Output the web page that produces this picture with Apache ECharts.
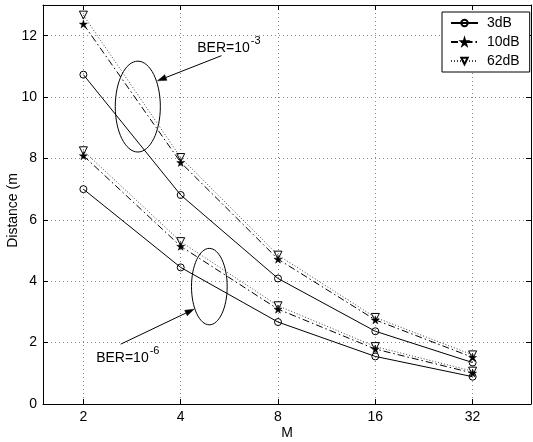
<!DOCTYPE html>
<html>
<head>
<meta charset="utf-8">
<script src="https://cdn.jsdelivr.net/npm/echarts@6/dist/echarts.min.js"></script>
<style>
html,body{margin:0;padding:0;background:#fff;}
#c{width:533px;height:442px;}
</style>
</head>
<body>
<div id="c"></div>
<script>
// ---- data ----
const M = [2, 4, 8, 16, 32];
const ber3_3dB  = [10.73, 6.81, 4.09, 2.37, 1.35];
const ber3_10dB = [12.38, 7.87, 4.72, 2.74, 1.52];
const ber3_62dB = [12.67, 8.03, 4.85, 2.82, 1.60];
const ber6_3dB  = [7.00, 4.45, 2.67, 1.55, 0.89];
const ber6_10dB = [8.09, 5.14, 3.09, 1.79, 1.01];
const ber6_62dB = [8.25, 5.29, 3.20, 1.87, 1.07];
const seriesNames = ['3dB', '10dB', '62dB'];
const yTicks = [0, 2, 4, 6, 8, 10, 12];

const FONT = '"Liberation Sans", Arial, sans-serif';
const STAR = 'path://M50,0 L61,35 L98,35 L68,57 L79,91 L50,70 L21,91 L32,57 L2,35 L39,35 Z';

function pairs(ys) { return M.map((m, i) => [m, ys[i]]); }

const styles = {
  '3dB':  { line: { color: '#000', width: 1, type: 'solid' }, symbol: 'circle', size: 7, rotate: 0,
            item: { color: 'rgba(255,255,255,0)', borderColor: '#000', borderWidth: 1 } },
  '10dB': { line: { color: '#000', width: 1, type: [7, 3, 1.5, 3] }, symbol: STAR, size: 8, rotate: 0,
            item: { color: '#000', borderColor: '#000', borderWidth: 0.5 } },
  '62dB': { line: { color: '#444', width: 1, type: [1, 2] }, symbol: 'triangle', size: 8, rotate: 180,
            item: { color: 'rgba(255,255,255,0)', borderColor: '#000', borderWidth: 1 } }
};

function mk(name, ys) {
  const s = styles[name];
  return {
    name: name, type: 'line', data: pairs(ys),
    symbol: s.symbol, symbolSize: s.size, symbolRotate: s.rotate, showAllSymbol: true,
    lineStyle: s.line, itemStyle: s.item, emphasis: { disabled: true }, animation: false,
    z: 3
  };
}

const chart = echarts.init(document.getElementById('c'), null, { renderer: 'canvas' });

const gridLine = { show: true, lineStyle: { color: '#888', type: [1, 3], width: 1 } };
const axisLine = { show: true, onZero: false, lineStyle: { color: '#000', width: 1 } };
const tick = { show: true, inside: true, length: 5, lineStyle: { color: '#000' } };

chart.setOption({
  animation: false,
  backgroundColor: '#fff',
  textStyle: { fontFamily: FONT },
  grid: { left: 43, right: 2, top: 5, bottom: 38, containLabel: false, outerBoundsMode: 'none' },
  legend: {
    data: seriesNames, orient: 'vertical', left: 442, top: 12,
    backgroundColor: '#fff', borderColor: '#000', borderWidth: 1,
    padding: [4, 10, 4, 8], itemWidth: 27, itemHeight: 8, itemGap: 5,
    textStyle: { fontSize: 14, color: '#000', fontFamily: FONT, padding: [0, 0, 0, 4] },
    selectedMode: false
  },
  xAxis: [{
    type: 'log', logBase: 2, min: 1.5, max: 48.5,
    name: 'M', nameLocation: 'middle', nameGap: 22, nameMoveOverlap: false,
    nameTextStyle: { fontSize: 14, color: '#000', fontFamily: FONT },
    axisLine: axisLine, axisTick: tick, splitLine: gridLine, minorTick: { show: false },
    axisLabel: { fontSize: 14, color: '#000', margin: 6, showMinLabel: false, showMaxLabel: false,
                 formatter: v => String(Math.round(v)) }
  }, {
    type: 'log', logBase: 2, min: 1.5, max: 48.5, position: 'top',
    axisLine: axisLine, axisTick: tick, splitLine: { show: false }, axisLabel: { show: false }
  }],
  yAxis: [{
    type: 'value', min: 0, max: 13, interval: 2,
    name: 'Distance (m', nameLocation: 'middle', nameGap: 23, nameMoveOverlap: false,
    nameTextStyle: { fontSize: 14, color: '#000', fontFamily: FONT, padding: [0, 12, 0, 0] },
    axisLine: axisLine, axisTick: tick, splitLine: gridLine,
    axisLabel: { fontSize: 14, color: '#000', margin: 6, showMaxLabel: false,
                 formatter: v => (yTicks.indexOf(v) >= 0 ? String(v) : '') }
  }, {
    type: 'value', min: 0, max: 13, interval: 2, position: 'right',
    axisLine: axisLine, axisTick: tick, splitLine: { show: false }, axisLabel: { show: false }
  }],
  series: [
    mk('3dB', ber3_3dB), mk('10dB', ber3_10dB), mk('62dB', ber3_62dB),
    mk('3dB', ber6_3dB), mk('10dB', ber6_10dB), mk('62dB', ber6_62dB)
  ]
});

// ---- annotations (anchored in data coordinates) ----
const ellipses = [
  { x: [2.51, 3.46], y: [8.21, 11.17] },
  { x: [4.32, 5.57], y: [2.58, 5.07] }
];
const arrows = [
  { from: [5.35, 11.35], to: [3.39, 10.53] },
  { from: [2.61, 1.95], to: [4.40, 3.09] }
];
const labels = [
  { at: [4.5, 11.6], main: 'BER=10', sup: '-3' },
  { at: [2.19, 1.5], main: 'BER=10', sup: '-6' }
];

function px(p) { return chart.convertToPixel({ gridIndex: 0 }, p); }
const ctx = document.createElement('canvas').getContext('2d');
ctx.font = '14px ' + FONT;

const g = [];
ellipses.forEach(e => {
  const a = px([e.x[0], e.y[0]]), b = px([e.x[1], e.y[1]]);
  g.push({ type: 'ellipse', silent: true, z: 10,
    shape: { cx: (a[0] + b[0]) / 2, cy: (a[1] + b[1]) / 2, rx: Math.abs(b[0] - a[0]) / 2, ry: Math.abs(b[1] - a[1]) / 2 },
    style: { fill: 'none', stroke: '#000', lineWidth: 1 } });
});
arrows.forEach(ar => {
  const f = px(ar.from), t = px(ar.to);
  const dx = t[0] - f[0], dy = t[1] - f[1], L = Math.hypot(dx, dy);
  const ux = dx / L, uy = dy / L, hl = 9, hw = 3;
  const bx = t[0] - ux * hl, by = t[1] - uy * hl;
  g.push({ type: 'line', silent: true, z: 10, shape: { x1: f[0], y1: f[1], x2: bx, y2: by },
    style: { stroke: '#000', lineWidth: 1 } });
  g.push({ type: 'polygon', silent: true, z: 10,
    shape: { points: [[t[0], t[1]], [bx - uy * hw, by + ux * hw], [bx + uy * hw, by - ux * hw]] },
    style: { fill: '#000', stroke: '#000', lineWidth: 0.5 } });
});
labels.forEach(l => {
  const p = px(l.at);
  const w = ctx.measureText(l.main).width;
  g.push({ type: 'text', silent: true, z: 10, x: p[0], y: p[1],
    style: { text: l.main, fontSize: 14, fontFamily: FONT, fill: '#000', align: 'left', verticalAlign: 'middle' } });
  g.push({ type: 'text', silent: true, z: 10, x: p[0] + w + 1, y: p[1] - 7,
    style: { text: l.sup, fontSize: 11, fontFamily: FONT, fill: '#000', align: 'left', verticalAlign: 'middle' } });
});
chart.setOption({ graphic: g });
</script>
</body>
</html>
